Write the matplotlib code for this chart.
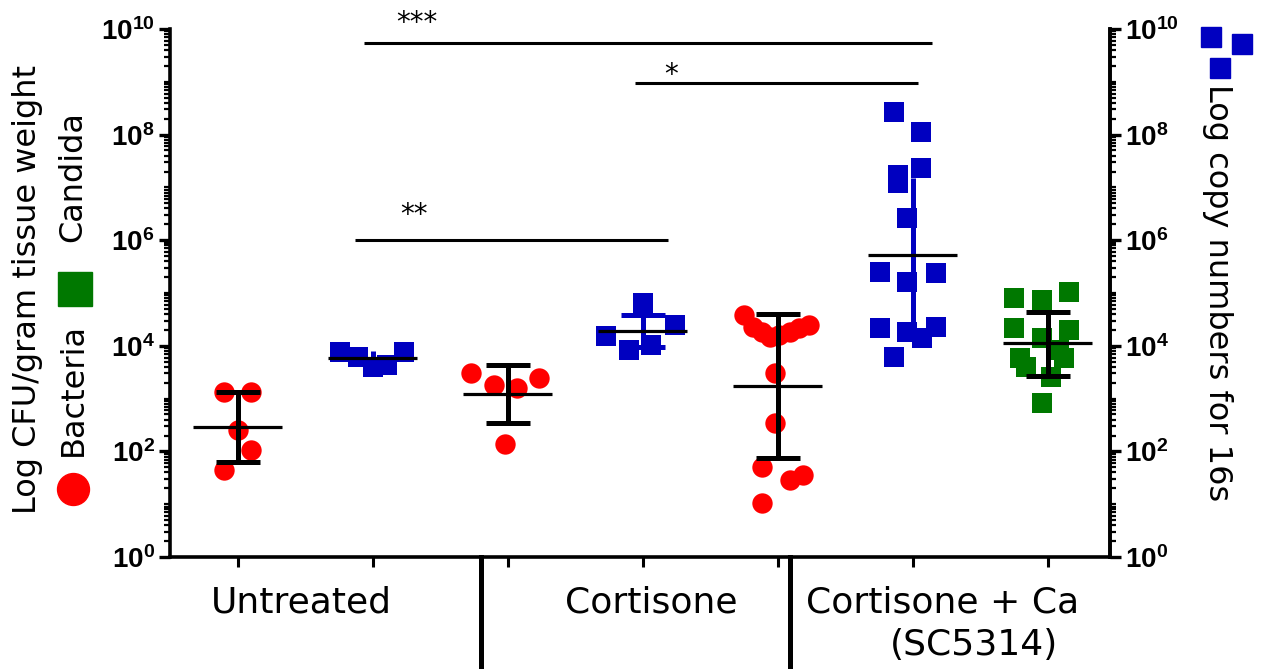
import numpy as np
import matplotlib
matplotlib.use('Agg')
import matplotlib.pyplot as plt
from matplotlib.lines import Line2D
from matplotlib.ticker import FixedLocator, FixedFormatter, NullFormatter

# ---------------- data ----------------
categories = ['Untreated', 'Cortisone', 'Cortisone + Ca', '(SC5314)']

untreated_bacteria = [1350, 1350, 257, 107, 45]
untreated_16s = [7590, 6170, 3980, 4370, 7590]
cortisone_bacteria = [3020, 1820, 1580, 2450, 138]
cortisone_16s = [64600, 24500, 15500, 8300, 10500]
cortca_bacteria = [38000, 22900, 18200, 14800, 15800, 18200, 21900, 24500,
                   3020, 347, 50, 29, 35, 10.5]
cortca_16s = [2.7e8, 1.12e8, 2.34e7, 1.7e7, 1.2e7, 2.63e6, 2.5e5, 2.4e5,
              1.62e5, 21900, 18200, 14100, 22900, 6170]
cortca_candida = [81000, 74000, 105000, 21900, 20000, 14100, 5900, 5900,
                  2570, 830, 3980, 8300]

group_mean = [288, 5750, 1230, 19000, 1740, 5.25e5, 11200]
group_err_low = [63, 4250, 347, 9500, 76, 17400, 2700]
group_err_high = [1350, 7800, 4370, 38000, 39800, 1.5e7, 43600]

sig_labels = ['***', '*', '**']
sig_start = [0.94, 2.94, 0.87]
sig_end = [5.14, 5.04, 3.19]
sig_line_y = [10**9.73, 10**8.98, 10**6.00]
sig_text_x = [1.33, 3.21, 1.31]
sig_text_y = [10**10.11, 10**9.12, 10**6.47]

ytick_values = [1e0, 1e2, 1e4, 1e6, 1e8, 1e10]
ytick_labels = [r'$10^{0}$', r'$10^{2}$', r'$10^{4}$', r'$10^{6}$', r'$10^{8}$', r'$10^{10}$']

# ---------------- layout / style ----------------
groups = [untreated_bacteria, untreated_16s, cortisone_bacteria, cortisone_16s,
          cortca_bacteria, cortca_16s, cortca_candida]
offsets = [
    [-0.10, 0.10, 0.0, 0.10, -0.10],
    [-0.24, -0.11, 0.0, 0.11, 0.23],
    [-0.27, -0.10, 0.07, 0.23, -0.02],
    [0.0, 0.24, -0.27, -0.10, 0.06],
    [-0.25, -0.18, -0.12, -0.06, 0.01, 0.09, 0.16, 0.23, -0.02, -0.02, -0.12, 0.09, 0.19, -0.12],
    [-0.14, 0.06, 0.06, -0.11, -0.11, -0.04, -0.24, 0.17, -0.04, -0.24, -0.04, 0.07, 0.17, -0.14],
    [-0.25, -0.04, 0.16, -0.25, 0.16, -0.04, -0.21, 0.12, 0.02, -0.04, -0.16, 0.08],
]
RED = '#FF0000'
BLUE = '#0000C0'
GREEN = '#007800'
colors = [RED, BLUE, RED, BLUE, RED, BLUE, GREEN]
markers = ['o', 's', 'o', 's', 'o', 's', 's']
err_colors = ['black', BLUE, 'black', BLUE, 'black', BLUE, 'black']
cap_sizes = [15.8, 0, 15.8, 15.8, 15.8, 0, 15.8]

plt.rcParams['font.family'] = ['DejaVu Sans']
plt.rcParams['mathtext.fontset'] = 'custom'
plt.rcParams['mathtext.rm'] = 'Liberation Sans:bold'
plt.rcParams['mathtext.default'] = 'rm'

fig = plt.figure(figsize=(12.67, 6.69), dpi=100)
ax = fig.add_axes([170/1267, 112/669, 940/1267, 528/669])
ax.set_yscale('log')
ax.set_ylim(1, 1e10)
ax.set_xlim(-0.5, 6.46)

for i, vals in enumerate(groups):
    xs = i + np.array(offsets[i])
    ax.scatter(xs, vals, s=215, marker=markers[i], color=colors[i],
               linewidths=0, zorder=2, clip_on=False)
    m = group_mean[i]
    ez = 3 if err_colors[i] == 'black' else 1
    ax.errorbar([i], [m], yerr=[[m - group_err_low[i]], [group_err_high[i] - m]],
                fmt='none', ecolor=err_colors[i], elinewidth=3.6,
                capsize=cap_sizes[i], capthick=3.6, zorder=ez)
    ax.hlines(m, i - 0.33, i + 0.33, color='black', lw=2.3, zorder=5)

# significance brackets
for lab, x0, x1, ly, tx, ty in zip(sig_labels, sig_start, sig_end, sig_line_y,
                                   sig_text_x, sig_text_y):
    ax.hlines(ly, x0, x1, color='black', lw=2.2, clip_on=False)
    ax.text(tx, ty, lab, ha='center', va='center', fontsize=20, clip_on=False)

# spines and ticks
for s in ['left', 'bottom', 'right']:
    ax.spines[s].set_linewidth(2.6)
ax.spines['top'].set_visible(False)
ax.set_xticks(range(7))
ax.set_xticklabels([])
ax.tick_params(axis='x', direction='out', length=7, width=2.2)

minor = []
for d in range(10):
    for k in range(2, 10):
        minor.append(k * 10**d)
    if d % 2 == 1:
        minor.append(10**d)
minor = [v for v in minor if v <= 1e10]

ax2 = ax.twinx()
ax2.set_yscale('log')
ax2.set_ylim(1, 1e10)
for a in (ax, ax2):
    a.yaxis.set_major_locator(FixedLocator(ytick_values))
    a.yaxis.set_major_formatter(FixedFormatter(ytick_labels))
    a.yaxis.set_minor_locator(FixedLocator(minor))
    a.yaxis.set_minor_formatter(NullFormatter())
    a.tick_params(axis='y', which='major', direction='out', length=8, width=2.4,
                  labelsize=20, pad=3)
    a.tick_params(axis='y', which='minor', direction='out', length=4.5, width=1.6)
for s in ['left', 'bottom', 'top']:
    ax2.spines[s].set_visible(False)
ax2.spines['right'].set_linewidth(2.6)

# group separators below the axis
for sx in [1.8, 4.09]:
    ax.plot([sx, sx], [0, -0.215], color='black', lw=3.6,
            transform=ax.get_xaxis_transform(), clip_on=False)

# category labels
xt = ax.get_xaxis_transform()
ax.text(0.474, -0.087, categories[0], ha='center', va='center', fontsize=26, transform=xt)
ax.text(3.06, -0.087, categories[1], ha='center', va='center', fontsize=26, transform=xt)
ax.text(5.22, -0.087, categories[2], ha='center', va='center', fontsize=26, transform=xt)
ax.text(5.45, -0.167, categories[3], ha='center', va='center', fontsize=26, transform=xt)

# left axis title with key
fig.text(28/1267, 1 - 290/669, 'Log CFU/gram tissue weight', rotation=90,
         ha='center', va='center', fontsize=23)
fig.text(73/1267, 1 - 390/669, 'Bacteria', rotation=90, ha='center', va='center', fontsize=23)
fig.text(73/1267, 1 - 177/669, 'Candida', rotation=90, ha='center', va='center', fontsize=23)
fig.add_artist(Line2D([73/1267], [1 - 489/669], marker='o', markersize=23, color=RED,
                      linestyle='none', transform=fig.transFigure))
fig.add_artist(Line2D([75/1267], [1 - 289/669], marker='s', markersize=24, color=GREEN,
                      linestyle='none', transform=fig.transFigure))

# right axis title with key
fig.text(1217/1267, 1 - 293/669, 'Log copy numbers for 16s', rotation=270,
         ha='center', va='center', fontsize=23)
for (px, py) in [(1211, 37), (1220, 68), (1242, 44)]:
    fig.add_artist(Line2D([px/1267], [1 - py/669], marker='s', markersize=15, color=BLUE,
                          linestyle='none', transform=fig.transFigure))

fig.savefig('out.png', dpi=100)
